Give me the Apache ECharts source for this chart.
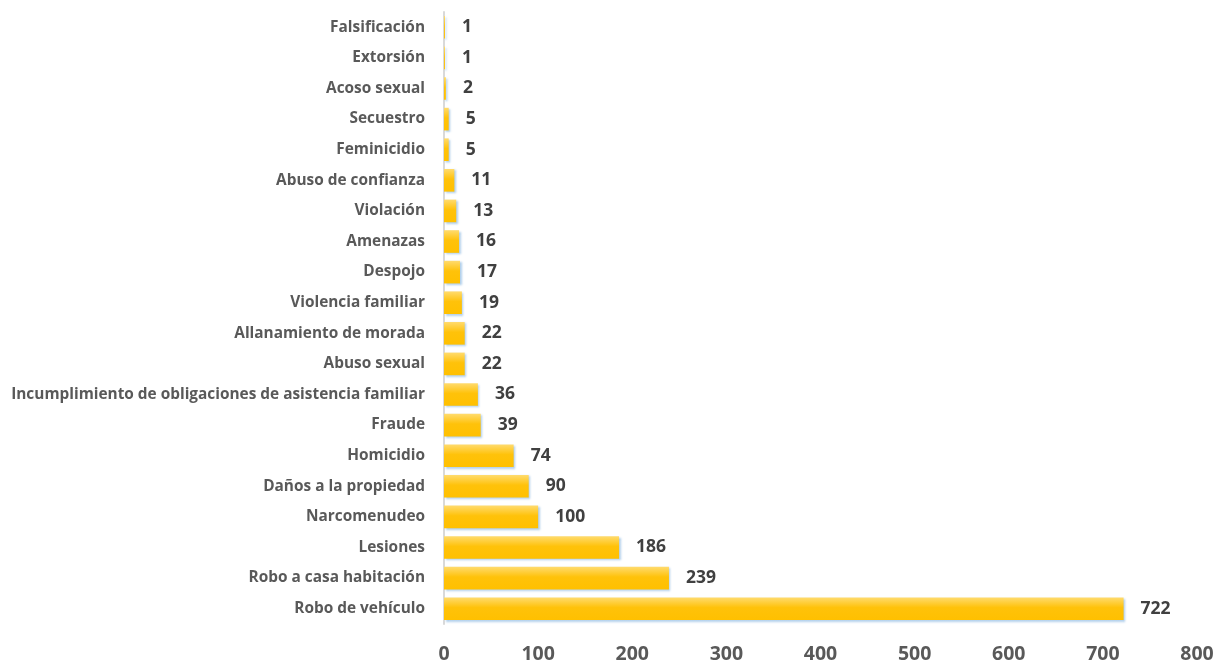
<!DOCTYPE html>
<html><head><meta charset="utf-8">
<script src="https://cdn.jsdelivr.net/npm/echarts@6/dist/echarts.min.js"></script>
<style>html,body{margin:0;padding:0;background:#fff}#c{width:1220px;height:664px}</style>
</head><body><div id="c"></div>
<script>
const categories = ["Robo de vehículo","Robo a casa habitación","Lesiones","Narcomenudeo","Daños a la propiedad","Homicidio","Fraude","Incumplimiento de obligaciones de asistencia familiar","Abuso sexual","Allanamiento de morada","Violencia familiar","Despojo","Amenazas","Violación","Abuso de confianza","Feminicidio","Secuestro","Acoso sexual","Extorsión","Falsificación"];
const values = [722,239,186,100,90,74,39,36,22,22,19,17,16,13,11,5,5,2,1,1];
const xTicks = [0,100,200,300,400,500,600,700,800];

const chart = echarts.init(document.getElementById('c'));
chart.setOption({
  animation:false,
  grid:{left:444,right:23,top:12,bottom:39,containLabel:false},
  xAxis:{type:'value',min:xTicks[0],max:xTicks[xTicks.length-1],interval:100,
    splitLine:{show:false},axisLine:{show:false},axisTick:{show:false},
    axisLabel:{color:'#595959',fontFamily:'Open Sans',fontWeight:'bold',fontSize:19.5,margin:20}},
  yAxis:{type:'category',data:categories,
    axisLine:{show:true,lineStyle:{color:'#d9d9d9',width:2}},axisTick:{show:false},
    axisLabel:{color:'#595959',fontFamily:'Open Sans',fontWeight:'bold',fontSize:15.4,margin:19}},
  series:[{type:'bar',data:values,barWidth:'74%',
    itemStyle:{color:new echarts.graphic.LinearGradient(0,0,0,1,[{offset:0,color:'#FFDB6E'},{offset:0.45,color:'#FFC20A'},{offset:1,color:'#FFC000'}]),
      shadowColor:'rgba(155,194,230,0.8)',shadowBlur:2,shadowOffsetX:1.5,shadowOffsetY:1.5},
    label:{show:true,position:'right',distance:17,color:'#404040',fontFamily:'Open Sans',fontWeight:'bold',fontSize:17.5}}]
});
</script></body></html>
